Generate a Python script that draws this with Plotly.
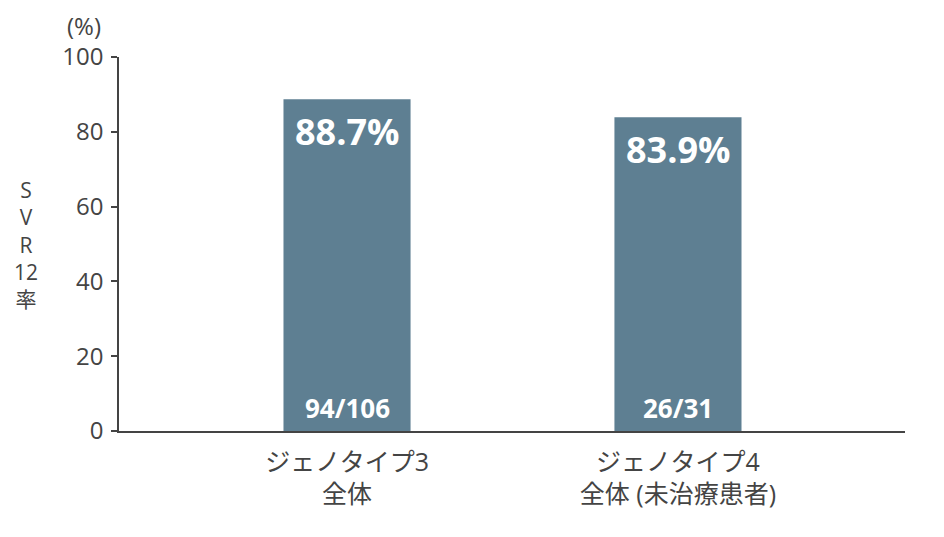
import plotly.graph_objects as go

# data
categories = ['ジェノタイプ3<br>全体', 'ジェノタイプ4<br>全体 (未治療患者)']
svr_rates = [88.7, 83.9]
fractions = ['94/106', '26/31']
y_ticks = [0, 20, 40, 60, 80, 100]
y_title = 'S<br>V<br>R<br>12<br>率'

bar_color = '#5e7f92'
text_color = '#444444'
font_family = 'Open Sans, Noto Sans CJK JP, sans-serif'

fig = go.Figure()
fig.add_trace(go.Bar(x=categories,
                     y=svr_rates,
                     width=0.384,
                     marker=dict(color=bar_color, line=dict(width=0)),
                     hoverinfo='skip'))

annotations = []
for cat, rate, frac in zip(categories, svr_rates, fractions):
    annotations.append(dict(x=cat, y=rate, xref='x', yref='y', text='<b>{}%</b>'.format(rate),
                            showarrow=False, yanchor='top', yshift=-6,
                            font=dict(size=36, color='white', family=font_family)))
    annotations.append(dict(x=cat, y=0, xref='x', yref='y', text='<b>{}</b>'.format(frac),
                            showarrow=False, yanchor='bottom', yshift=3,
                            font=dict(size=26, color='white', family=font_family)))

# axis captions
annotations.append(dict(x=-0.02, y=1.085, xref='paper', yref='paper', text='(%)',
                        showarrow=False, xanchor='right', yanchor='middle',
                        font=dict(size=24, color=text_color, family=font_family)))
annotations.append(dict(x=-0.118, y=0.5, xref='paper', yref='paper',
                        text=y_title, showarrow=False, xanchor='center', yanchor='middle',
                        align='center',
                        font=dict(size=21, color=text_color, family=font_family)))

fig.update_layout(width=936, height=529,
                  margin=dict(l=111, r=39, t=49, b=106),
                  plot_bgcolor='white', paper_bgcolor='white',
                  showlegend=False,
                  font=dict(family=font_family, color=text_color, size=24),
                  annotations=annotations,
                  xaxis=dict(type='category', range=[-0.689, 1.686],
                             showline=True, linecolor='#444444', linewidth=1.5,
                             ticks='', showgrid=False, zeroline=False,
                             ticklabelstandoff=8,
                             tickfont=dict(size=25, color=text_color)),
                  yaxis=dict(range=[0, 100], tickvals=y_ticks,
                             showline=True, linecolor='#444444', linewidth=1.5,
                             ticks='outside', ticklen=6, tickcolor='#444444', tickwidth=1.5,
                             showgrid=False, zeroline=False,
                             ticklabelstandoff=3,
                             tickfont=dict(size=24, color=text_color)))

fig.write_html('out.html')
